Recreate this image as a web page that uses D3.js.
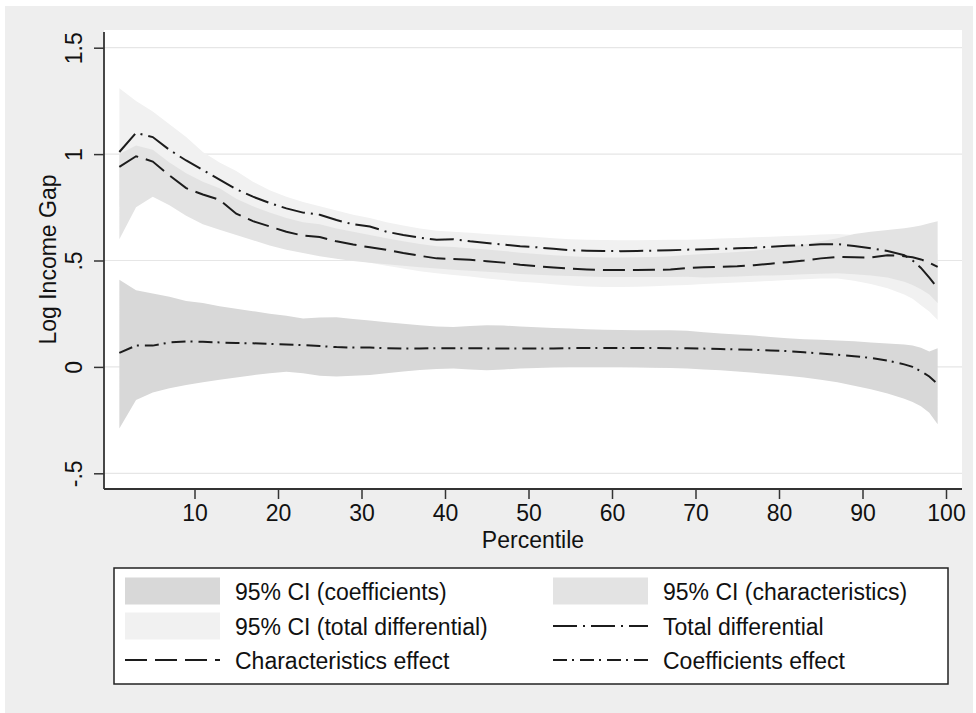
<!DOCTYPE html>
<html lang="en">
<head>
    <meta charset="UTF-8">
    <title>Log Income Gap by Percentile</title>
    <script src="https://d3js.org/d3.v7.min.js"></script>
    <style>
        body {
            margin: 0;
            padding: 0;
            background: #ffffff;
            font-family: "Liberation Sans", Arial, Helvetica, sans-serif;
        }
        svg {
            display: block;
        }
        .tick text {
            font-size: 23px;
            fill: #111;
        }
        .axis-title {
            font-size: 23px;
            fill: #111;
        }
        .legend-text {
            font-size: 23px;
            fill: #111;
        }
    </style>
</head>
<body>
    <svg id="chart" width="976" height="713"></svg>

    <script>
        const percentiles = [1, 3, 5, 7, 9, 11, 13, 15, 17, 19, 21, 23, 25, 27, 29, 31, 33, 35, 37, 39,
            41, 43, 45, 47, 49, 51, 53, 55, 57, 59, 61, 63, 65, 67, 69, 71, 73, 75, 77, 79,
            81, 83, 85, 87, 89, 91, 93, 95, 96, 97, 98, 99];

        const totalDiff = [1.01, 1.10, 1.08, 1.02, 0.97, 0.925, 0.88, 0.835, 0.80, 0.77,
            0.745, 0.725, 0.715, 0.69, 0.67, 0.66, 0.635, 0.62, 0.607, 0.597,
            0.60, 0.59, 0.582, 0.575, 0.567, 0.562, 0.555, 0.548, 0.546, 0.545,
            0.544, 0.545, 0.546, 0.548, 0.551, 0.553, 0.555, 0.557, 0.56, 0.565,
            0.569, 0.572, 0.576, 0.577, 0.568, 0.557, 0.545, 0.525, 0.50, 0.465, 0.42, 0.37];

        const charEffect = [0.94, 0.99, 0.965, 0.90, 0.84, 0.81, 0.785, 0.72, 0.685, 0.66,
            0.635, 0.617, 0.61, 0.59, 0.575, 0.562, 0.55, 0.535, 0.522, 0.51,
            0.507, 0.503, 0.497, 0.49, 0.48, 0.473, 0.467, 0.462, 0.458, 0.455,
            0.455, 0.455, 0.456, 0.458, 0.464, 0.468, 0.47, 0.473, 0.478, 0.485,
            0.492, 0.50, 0.51, 0.517, 0.515, 0.514, 0.525, 0.52, 0.515, 0.505, 0.49, 0.47];

        const coefEffect = [0.066, 0.10, 0.10, 0.115, 0.12, 0.118, 0.115, 0.112, 0.111, 0.108,
            0.105, 0.102, 0.098, 0.093, 0.091, 0.091, 0.088, 0.086, 0.087, 0.088,
            0.088, 0.088, 0.087, 0.086, 0.086, 0.087, 0.087, 0.088, 0.089, 0.089,
            0.089, 0.089, 0.089, 0.088, 0.088, 0.086, 0.084, 0.082, 0.08, 0.077,
            0.074, 0.069, 0.063, 0.057, 0.05, 0.042, 0.03, 0.012, 0.0, -0.02, -0.045, -0.08];

        // 95% CI bounds
        const totalLo = [0.75, 0.85, 0.86, 0.82, 0.77, 0.73, 0.70, 0.66, 0.63, 0.60,
            0.58, 0.56, 0.545, 0.525, 0.505, 0.49, 0.475, 0.462, 0.45, 0.44,
            0.432, 0.425, 0.415, 0.408, 0.40, 0.395, 0.388, 0.382, 0.378, 0.376,
            0.376, 0.377, 0.379, 0.382, 0.385, 0.389, 0.393, 0.397, 0.40, 0.404,
            0.408, 0.412, 0.415, 0.416, 0.405, 0.39, 0.37, 0.34, 0.32, 0.29, 0.26, 0.22];
        const totalHi = [1.31, 1.25, 1.20, 1.14, 1.08, 1.01, 0.96, 0.92, 0.87, 0.83,
            0.80, 0.775, 0.755, 0.735, 0.715, 0.70, 0.68, 0.665, 0.65, 0.64,
            0.635, 0.63, 0.625, 0.62, 0.615, 0.61, 0.605, 0.60, 0.598, 0.596,
            0.595, 0.595, 0.596, 0.597, 0.598, 0.60, 0.603, 0.606, 0.609, 0.612,
            0.615, 0.618, 0.622, 0.625, 0.62, 0.61, 0.60, 0.585, 0.575, 0.56, 0.545, 0.53];

        const charLo = [0.60, 0.75, 0.80, 0.76, 0.71, 0.67, 0.645, 0.62, 0.595, 0.57,
            0.55, 0.535, 0.52, 0.508, 0.498, 0.49, 0.482, 0.475, 0.468, 0.462,
            0.457, 0.452, 0.447, 0.442, 0.437, 0.433, 0.43, 0.427, 0.425, 0.423,
            0.422, 0.422, 0.422, 0.423, 0.424, 0.42, 0.422, 0.425, 0.428, 0.43,
            0.432, 0.435, 0.438, 0.44, 0.435, 0.43, 0.42, 0.40, 0.385, 0.365, 0.34, 0.30];
        const charHi = [1.00, 1.04, 1.02, 0.96, 0.91, 0.87, 0.84, 0.79, 0.755, 0.725,
            0.70, 0.68, 0.67, 0.65, 0.635, 0.62, 0.605, 0.59, 0.578, 0.567,
            0.563, 0.558, 0.552, 0.545, 0.537, 0.53, 0.525, 0.52, 0.516, 0.514,
            0.514, 0.515, 0.517, 0.52, 0.526, 0.531, 0.535, 0.54, 0.546, 0.555,
            0.564, 0.575, 0.59, 0.605, 0.625, 0.635, 0.643, 0.652, 0.658, 0.665, 0.675, 0.685];

        const coefLo = [-0.29, -0.155, -0.12, -0.10, -0.085, -0.072, -0.06, -0.05, -0.039, -0.03,
            -0.023, -0.03, -0.042, -0.045, -0.042, -0.038, -0.03, -0.022, -0.015, -0.01,
            -0.008, -0.012, -0.016, -0.012, -0.008, -0.005, -0.002, 0.0, 0.0, 0.0,
            0.0, -0.002, -0.004, -0.005, -0.008, -0.012, -0.016, -0.022, -0.028, -0.035,
            -0.042, -0.05, -0.06, -0.072, -0.088, -0.105, -0.125, -0.15, -0.165, -0.185, -0.215, -0.27];
        const coefHi = [0.41, 0.36, 0.345, 0.33, 0.31, 0.30, 0.285, 0.273, 0.262, 0.25,
            0.24, 0.228, 0.232, 0.233, 0.225, 0.218, 0.21, 0.203, 0.196, 0.19,
            0.188, 0.192, 0.196, 0.194, 0.19, 0.186, 0.183, 0.18, 0.177, 0.174,
            0.173, 0.172, 0.172, 0.172, 0.17, 0.163, 0.157, 0.152, 0.147, 0.14,
            0.135, 0.13, 0.127, 0.124, 0.12, 0.115, 0.11, 0.105, 0.1, 0.09, 0.072, 0.088];

        const xTicks = [10, 20, 30, 40, 50, 60, 70, 80, 90, 100];
        const yTicks = [-0.5, 0, 0.5, 1, 1.5];
        const yTickLabels = ["-.5", "0", ".5", "1", "1.5"];

        const legendLabels = ["95% CI (coefficients)", "95% CI (characteristics)",
            "95% CI (total differential)", "Total differential",
            "Characteristics effect", "Coefficients effect"];

        // styles
        const colTotalCI = "#f1f1f1";
        const colCharCI = "#e3e3e3";
        const colCoefCI = "#d8d8d8";
        const lineColor = "#1c1c1c";
        const dashTotal = "24 6 2 6";
        const dashChar = "22 8";
        const dashCoef = "14 5 2 6";

        const svg = d3.select("#chart");

        // outer stata-like background
        svg.append("rect")
            .attr("x", 5).attr("y", 6)
            .attr("width", 968).attr("height", 707)
            .attr("fill", "#eeeeee");

        const frame = { left: 104, right: 962, top: 30, bottom: 489 };

        svg.append("rect")
            .attr("x", frame.left).attr("y", frame.top)
            .attr("width", frame.right - frame.left)
            .attr("height", frame.bottom - frame.top)
            .attr("fill", "#ffffff");

        const x = d3.scaleLinear().domain([0, 100]).range([111, 946]);
        const y = d3.scaleLinear().domain([-0.5, 1.5]).range([473.3, 47.7]);

        // gridlines
        svg.append("g")
            .selectAll("line")
            .data(yTicks)
            .enter().append("line")
            .attr("x1", frame.left).attr("x2", frame.right)
            .attr("y1", d => y(d)).attr("y2", d => y(d))
            .attr("stroke", "#e6e6e6")
            .attr("stroke-width", 1.2);

        const rows = percentiles.map((p, i) => ({
            p: p,
            total: totalDiff[i], chr: charEffect[i], coef: coefEffect[i],
            tLo: totalLo[i], tHi: totalHi[i],
            cLo: charLo[i], cHi: charHi[i],
            kLo: coefLo[i], kHi: coefHi[i]
        }));

        function band(lo, hi) {
            return d3.area()
                .x(d => x(d.p))
                .y0(d => y(d[lo]))
                .y1(d => y(d[hi]));
        }

        const g = svg.append("g");

        g.append("path").datum(rows).attr("d", band("tLo", "tHi")).attr("fill", colTotalCI);
        g.append("path").datum(rows).attr("d", band("cLo", "cHi")).attr("fill", colCharCI);
        g.append("path").datum(rows).attr("d", band("kLo", "kHi")).attr("fill", colCoefCI);

        function line(key) {
            return d3.line().x(d => x(d.p)).y(d => y(d[key]));
        }

        g.append("path").datum(rows).attr("d", line("total"))
            .attr("fill", "none").attr("stroke", lineColor).attr("stroke-width", 2)
            .attr("stroke-dasharray", dashTotal);
        g.append("path").datum(rows).attr("d", line("chr"))
            .attr("fill", "none").attr("stroke", lineColor).attr("stroke-width", 2)
            .attr("stroke-dasharray", dashChar);
        g.append("path").datum(rows).attr("d", line("coef"))
            .attr("fill", "none").attr("stroke", lineColor).attr("stroke-width", 2)
            .attr("stroke-dasharray", dashCoef);

        // axes
        const yAxis = svg.append("g")
            .attr("transform", `translate(${frame.left},0)`)
            .call(d3.axisLeft(y).tickValues(yTicks).tickSize(10).tickSizeOuter(0)
                .tickFormat((d, i) => yTickLabels[i]));
        yAxis.select(".domain").remove();
        yAxis.selectAll(".tick line").attr("stroke", "#333").attr("stroke-width", 1.5);
        yAxis.selectAll(".tick text")
            .attr("x", null).attr("dy", null)
            .attr("text-anchor", "middle")
            .attr("transform", "translate(-22,0) rotate(-90)");

        const xAxis = svg.append("g")
            .attr("transform", `translate(0,${frame.bottom})`)
            .call(d3.axisBottom(x).tickValues(xTicks).tickSize(10).tickSizeOuter(0));
        xAxis.select(".domain").remove();
        xAxis.selectAll(".tick line").attr("stroke", "#333").attr("stroke-width", 1.5);
        xAxis.selectAll(".tick text").attr("y", 32).attr("dy", null);

        svg.append("line")
            .attr("x1", frame.left).attr("x2", frame.left)
            .attr("y1", frame.top + 2).attr("y2", frame.bottom)
            .attr("stroke", "#333").attr("stroke-width", 1.8);
        svg.append("line")
            .attr("x1", frame.left).attr("x2", frame.right)
            .attr("y1", frame.bottom).attr("y2", frame.bottom)
            .attr("stroke", "#333").attr("stroke-width", 1.8);

        svg.append("text")
            .attr("class", "axis-title")
            .attr("text-anchor", "middle")
            .attr("x", (frame.left + frame.right) / 2)
            .attr("y", 548)
            .text("Percentile");

        svg.append("text")
            .attr("class", "axis-title")
            .attr("text-anchor", "middle")
            .attr("transform", `translate(56,${(frame.top + frame.bottom) / 2}) rotate(-90)`)
            .text("Log Income Gap");

        // legend
        const lg = { x: 114, y: 568, w: 834, h: 116 };
        svg.append("rect")
            .attr("x", lg.x).attr("y", lg.y)
            .attr("width", lg.w).attr("height", lg.h)
            .attr("fill", "#ffffff")
            .attr("stroke", "#222")
            .attr("stroke-width", 1.5);

        const legendItems = [
            { label: legendLabels[0], fill: colCoefCI },
            { label: legendLabels[1], fill: colCharCI },
            { label: legendLabels[2], fill: colTotalCI },
            { label: legendLabels[3], dash: dashTotal },
            { label: legendLabels[4], dash: dashChar },
            { label: legendLabels[5], dash: dashCoef }
        ];
        const rowY = [591, 626, 660];
        const colX = [125, 553];

        const item = svg.append("g").selectAll("g")
            .data(legendItems)
            .enter().append("g")
            .attr("transform", (d, i) => `translate(${colX[i % 2]},${rowY[Math.floor(i / 2)]})`);

        item.filter(d => d.fill)
            .append("rect")
            .attr("x", 0).attr("y", -13.5)
            .attr("width", 95).attr("height", 27)
            .attr("fill", d => d.fill);

        item.filter(d => d.dash)
            .append("line")
            .attr("x1", 0).attr("x2", 95)
            .attr("y1", 0).attr("y2", 0)
            .attr("stroke", lineColor)
            .attr("stroke-width", 2)
            .attr("stroke-dasharray", d => d.dash);

        item.append("text")
            .attr("class", "legend-text")
            .attr("x", 110)
            .attr("y", 8.5)
            .text(d => d.label);
    </script>
</body>
</html>
